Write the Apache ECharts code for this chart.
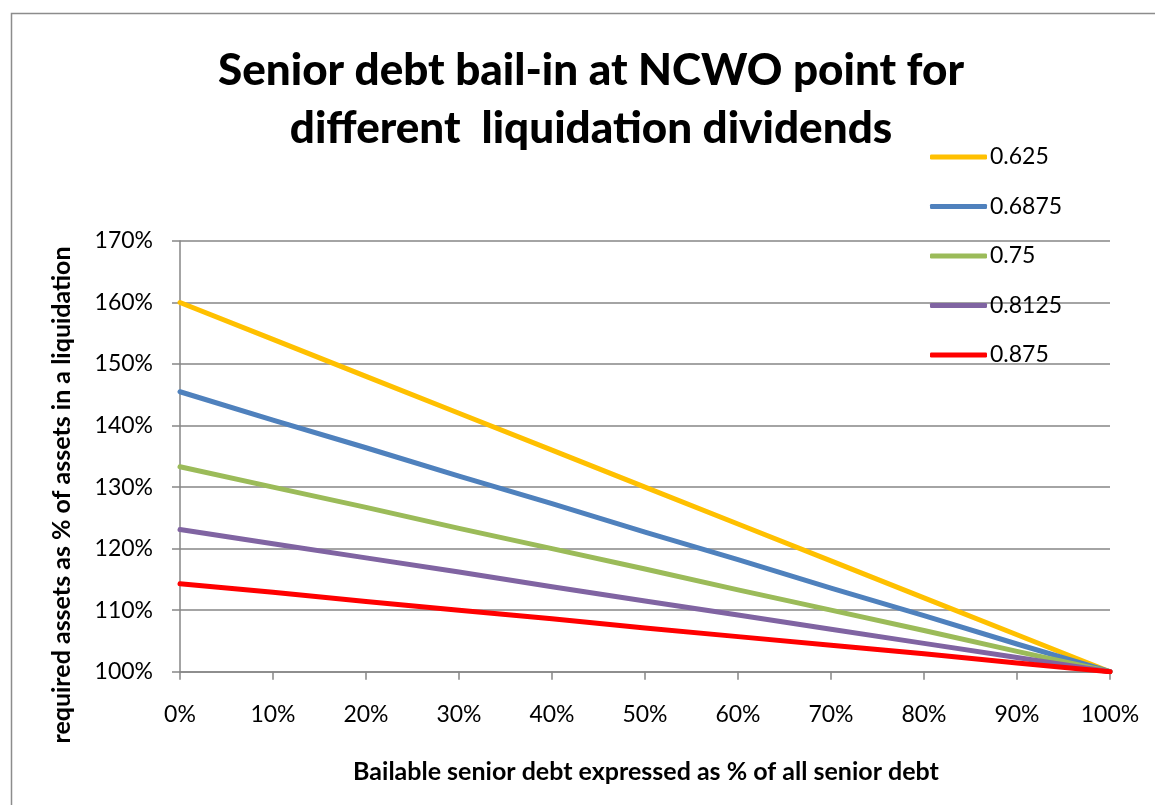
<!DOCTYPE html>
<html>
<head>
<meta charset="utf-8">
<script src="https://cdn.jsdelivr.net/npm/echarts@6/dist/echarts.min.js"></script>
<style>
html,body{margin:0;padding:0;background:#fff;}
#chart{width:1155px;height:805px;}
</style>
</head>
<body>
<div id="chart"></div>
<script>
// Data (values in %)
const categories = ['0%','10%','20%','30%','40%','50%','60%','70%','80%','90%','100%'];
const seriesNames = ['0.625','0.6875','0.75','0.8125','0.875'];
const s0625  = [160, 154, 148, 142, 136, 130, 124, 118, 112, 106, 100];
const s06875 = [145.5, 140.9, 136.4, 131.8, 127.3, 122.7, 118.2, 113.6, 109.1, 104.5, 100];
const s075   = [133.3, 130, 126.7, 123.3, 120, 116.7, 113.3, 110, 106.7, 103.3, 100];
const s08125 = [123.1, 120.8, 118.5, 116.2, 113.8, 111.5, 109.2, 106.9, 104.6, 102.3, 100];
const s0875  = [114.3, 112.9, 111.4, 110, 108.6, 107.1, 105.7, 104.3, 102.9, 101.4, 100];
const seriesData = [s0625, s06875, s075, s08125, s0875];
const colors = ['#FFC000', '#4F81BD', '#9BBB59', '#8064A2', '#FF0000'];

const FONT = 'Lato';
const chart = echarts.init(document.getElementById('chart'), null, {renderer: 'canvas'});
const option = {
  animation: false,
  backgroundColor: '#fff',
  textStyle: {fontFamily: FONT},
  title: {
    text: 'Senior debt bail-in at NCWO point for\ndifferent  liquidation dividends',
    left: 586, top: 37, textAlign: 'center',
    textStyle: {fontFamily: FONT, fontSize: 44, fontWeight: 900, color: '#000', lineHeight: 58}
  },
  legend: {
    orient: 'vertical', left: 930, top: 144, padding: 0,
    icon: 'roundRect', itemWidth: 57, itemHeight: 5, itemGap: 23.5,
    textStyle: {fontFamily: FONT, fontSize: 23, color: '#000', lineHeight: 26, padding: [0,0,0,-2]},
    data: seriesNames
  },
  grid: {left: 180, right: 45, top: 241, bottom: 133.3, containLabel: false, outerBoundsMode: 'none'},
  xAxis: {
    type: 'category', data: categories, boundaryGap: false,
    axisLine: {show: true, lineStyle: {color: '#868686', width: 1.5}},
    axisTick: {show: true, length: 8, lineStyle: {color: '#868686', width: 1.5}},
    axisLabel: {margin: 31, fontFamily: FONT, fontSize: 23, color: '#000'},
    splitLine: {show: false}
  },
  yAxis: {
    type: 'value', min: 100, max: 170, interval: 10,
    axisLine: {show: true, lineStyle: {color: '#868686', width: 1.5}},
    axisTick: {show: true, length: 8, lineStyle: {color: '#868686', width: 1.5}},
    axisLabel: {margin: 27, fontFamily: FONT, fontSize: 23, color: '#000', formatter: '{value}%'},
    splitLine: {show: true, lineStyle: {color: '#868686', width: 1.5}}
  },
  graphic: [
    {type: 'rect', left: 9, top: 11, silent: true,
     shape: {x: 0, y: 0, width: 1160, height: 810},
     style: {fill: 'none', stroke: '#8c8c8c', lineWidth: 1.5}},
    {type: 'text', x: 62, y: 495, rotation: Math.PI / 2,
     style: {text: 'required assets as % of assets in a liquidation', fontFamily: FONT, fontSize: 25, fontWeight: 'bold',
             fill: '#000', align: 'center', verticalAlign: 'middle'}},
    {type: 'text', x: 646, y: 772,
     style: {text: 'Bailable senior debt expressed as % of all senior debt', fontFamily: FONT, fontSize: 25, fontWeight: 'bold',
             fill: '#000', align: 'center', verticalAlign: 'middle'}}
  ],
  series: seriesNames.map((n, i) => ({
    name: n, type: 'line', data: seriesData[i], showSymbol: false, symbol: 'none',
    color: colors[i],
    lineStyle: {color: colors[i], width: 5, cap: 'round', join: 'round'},
    z: 2 + i
  }))
};
chart.setOption(option);
</script>
</body>
</html>
